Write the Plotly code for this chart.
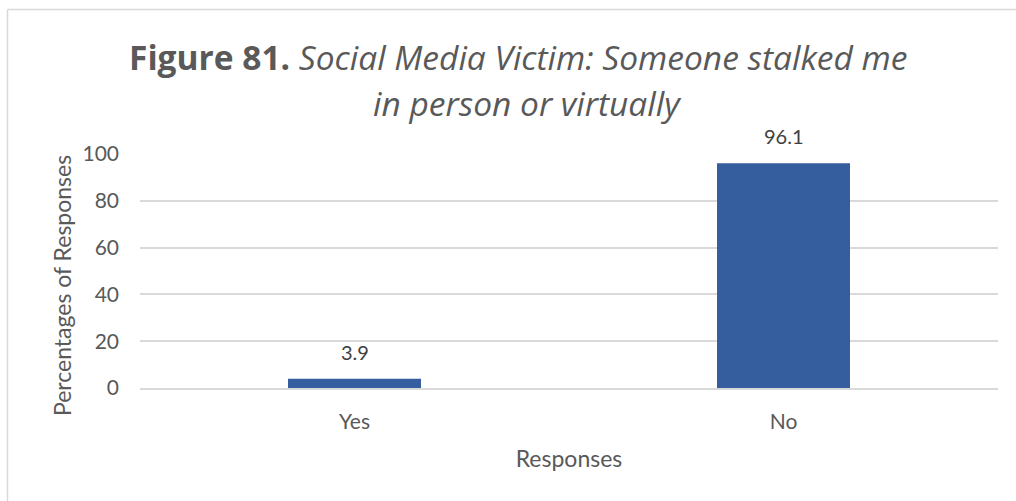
import plotly.graph_objects as go

categories = ["Yes", "No"]
percentages = [3.9, 96.1]
y_ticks = [0, 20, 40, 60, 80, 100]

FONT = "Lato"
TITLE_FONT = "Open Sans"
GREY_TEXT = "#595959"
LABEL_TEXT = "#404040"
GRID = "#D9D9D9"

fig = go.Figure(
    go.Bar(
        x=categories,
        y=percentages,
        width=0.31,
        marker=dict(color="#355E9F", line=dict(width=0)),
        hoverinfo="x+y",
    )
)

L, R, T, B = 140, 18, 154, 113
W, H = 1016, 501
pw, ph = W - L - R, H - T - B

def px_x(x):
    return (x - L) / pw

def px_y(y):
    return (H - B - y) / ph

# value labels above each bar
annotations = [
    dict(
        x=c, y=v, xref="x", yref="y",
        text=f"{v:.1f}",
        showarrow=False,
        yanchor="bottom",
        yshift=13,
        font=dict(family=FONT, size=20, color=LABEL_TEXT),
    )
    for c, v in zip(categories, percentages)
]

# two-line chart title
annotations += [
    dict(
        text="<b>Figure 81.</b> <i>Social Media Victim: Someone stalked me</i>",
        x=px_x(518), y=px_y(57), xref="paper", yref="paper",
        xanchor="center", yanchor="middle", showarrow=False,
        font=dict(family=TITLE_FONT, size=33.5, color=GREY_TEXT),
    ),
    dict(
        text="<i>in person or virtually</i>",
        x=px_x(527), y=px_y(103), xref="paper", yref="paper",
        xanchor="center", yanchor="middle", showarrow=False,
        font=dict(family=TITLE_FONT, size=33.5, color=GREY_TEXT),
    ),
    # vertical axis title
    dict(
        text="Percentages of Responses",
        x=px_x(62), y=px_y(286), xref="paper", yref="paper",
        xanchor="center", yanchor="middle", showarrow=False,
        textangle=-90,
        font=dict(family=FONT, size=23, color=GREY_TEXT),
    ),
]

fig.update_layout(
    width=W,
    height=H,
    margin=dict(l=L, r=R, t=T, b=B),
    paper_bgcolor="white",
    plot_bgcolor="white",
    showlegend=False,
    font=dict(family=FONT, color=GREY_TEXT),
    xaxis=dict(
        showgrid=False,
        showline=True,
        linecolor=GRID,
        linewidth=1.5,
        ticks="",
        ticklabelstandoff=14,
        tickfont=dict(size=21, color=GREY_TEXT),
        title=dict(text="Responses", font=dict(size=23, color=GREY_TEXT), standoff=19),
    ),
    yaxis=dict(
        range=[0, 100],
        tickvals=y_ticks,
        showgrid=True,
        gridcolor=GRID,
        gridwidth=1.5,
        zeroline=False,
        showline=False,
        ticks="",
        ticklabelstandoff=20,
        tickfont=dict(size=21, color=GREY_TEXT),
    ),
    annotations=annotations,
    shapes=[
        dict(type="line", xref="paper", yref="paper",
             x0=px_x(7.5), x1=px_x(7.5), y0=px_y(9.5), y1=px_y(520),
             line=dict(color=GRID, width=1.5)),
        dict(type="line", xref="paper", yref="paper",
             x0=px_x(7.5), x1=px_x(1030), y0=px_y(9.5), y1=px_y(9.5),
             line=dict(color=GRID, width=1.5)),
    ],
)

fig.write_html("out.html")
